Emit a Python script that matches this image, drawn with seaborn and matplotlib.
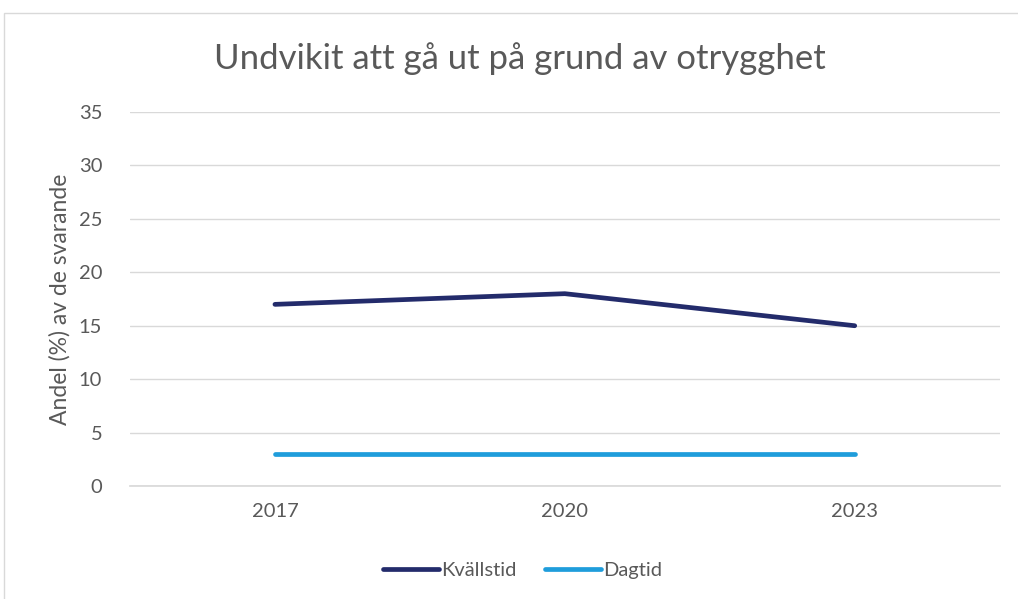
import matplotlib
matplotlib.use("Agg")
import matplotlib.pyplot as plt
import matplotlib.patches as mpatches
import seaborn as sns
import pandas as pd

years = ["2017", "2020", "2023"]
kvallstid = [17, 18, 15]
dagtid = [3, 3, 3]
yticks = [0, 5, 10, 15, 20, 25, 30, 35]

df = pd.DataFrame({
    "year": years * 2,
    "value": kvallstid + dagtid,
    "serie": ["Kvällstid"] * 3 + ["Dagtid"] * 3,
})
df["x"] = list(range(len(years))) * 2

sns.set_theme(style="white")
plt.rcParams["font.family"] = ["Lato", "DejaVu Sans"]
grey = "#595959"

fig = plt.figure(figsize=(10.18, 5.99), dpi=100)
ax = fig.add_axes([0.1277, 0.1886, 0.8543, 0.6244])

# chart frame
fig.patches.append(mpatches.Rectangle((4 / 1018, -0.05), 1.1, 1 - 13 / 599 + 0.05,
                                      transform=fig.transFigure, fill=False,
                                      edgecolor="#D9D9D9", lw=1))

sns.lineplot(data=df, x="x", y="value", hue="serie",
             palette={"Kvällstid": "#232B6B", "Dagtid": "#1F9DDB"},
             lw=3.4, ax=ax, legend=False, solid_capstyle="round")

ax.set_xlim(-0.5, 2.5)
ax.set_ylim(0, 35)
ax.set_yticks(yticks)
ax.set_xticks(range(len(years)))
ax.set_xticklabels(years)
ax.grid(axis="y", color="#D9D9D9", lw=1)
ax.set_axisbelow(True)
for s in ["top", "right", "left"]:
    ax.spines[s].set_visible(False)
ax.spines["bottom"].set_color("#D9D9D9")
ax.tick_params(axis="both", length=0, labelsize=14.5, labelcolor=grey)
ax.tick_params(axis="x", pad=12)
ax.tick_params(axis="y", pad=20)
ax.set_xlabel("")
ax.set_ylabel("Andel (%) av de svarande", fontsize=16.5, color=grey, labelpad=6)

fig.text(0.511, 0.902, "Undvikit att gå ut på grund av otrygghet",
         ha="center", va="center", fontsize=25, color=grey)

handles = [plt.Line2D([], [], color="#232B6B", lw=3.4, solid_capstyle="round"),
           plt.Line2D([], [], color="#1F9DDB", lw=3.4, solid_capstyle="round")]
fig.legend(handles, ["Kvällstid", "Dagtid"], loc="center", bbox_to_anchor=(0.513, 0.047),
           ncol=2, frameon=False, fontsize=14.5, labelcolor=grey,
           handlelength=2.8, handletextpad=0.1, columnspacing=1.4)

fig.savefig("out.png", dpi=100)
